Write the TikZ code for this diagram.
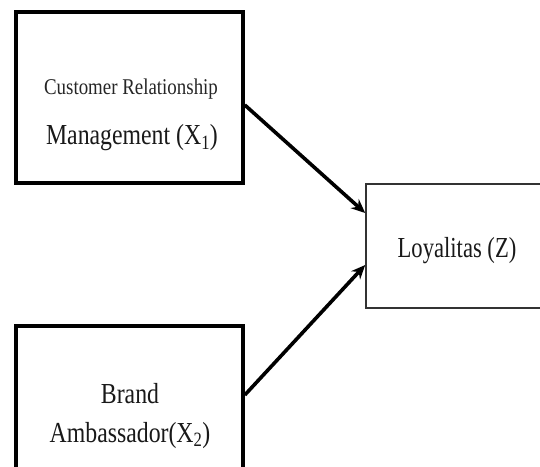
\documentclass[tikz,border=0pt]{standalone}
\usepackage{fontspec}
\setmainfont{Liberation Serif}
\usetikzlibrary{arrows.meta}
\newcommand{\cond}[2]{\scalebox{#1}[1]{#2}}
\begin{document}
\begin{tikzpicture}[x=1pt,y=1pt,
  thickbox/.style={draw=black,line width=3.6pt,fill=white,inner sep=0pt},
  thinbox/.style={draw=black!80,line width=1.6pt,fill=white,inner sep=0pt},
  lbl/.style={anchor=base,inner sep=0pt,text=black!90,font=\fontsize{29}{34}\selectfont},
  lblsmall/.style={anchor=base,inner sep=0pt,text=black!85,font=\fontsize{22.5}{27}\selectfont},
  conn/.style={line width=3.6pt,-{Stealth[length=14pt,width=12pt]}}]
\useasboundingbox (0,0) rectangle (540,466);
\clip (0,0) rectangle (540,466);
\fill[white] (0,0) rectangle (540,466);
% boxes
\node[thickbox,minimum width=227pt,minimum height=171pt] (x1) at (129.5,368.5) {};
\node[thickbox,minimum width=227pt,minimum height=220pt] (x2) at (129.5,30) {};
\node[thinbox,minimum width=254pt,minimum height=124pt] (z) at (493,220) {};
% texts
\node[lblsmall] (t1a) at (131,371) {\cond{0.84}{Customer Relationship}};
\node[lbl] (t1b) at (132,321) {\cond{0.82}{Management (X\textsubscript{1})}};
\node[lbl] (t2a) at (130,63) {\cond{0.82}{Brand}};
\node[lbl] (t2b) at (130,24) {\cond{0.82}{Ambassador(X\textsubscript{2})}};
\node[lbl] (tz) at (457,208) {\cond{0.78}{Loyalitas (Z)}};
% connectors
\coordinate (s1) at ([yshift=-7.5pt]x1.east);
\coordinate (s2) at ([yshift=41pt]x2.east);
\coordinate (e1) at ([yshift=33pt]z.west);
\coordinate (e2) at ([yshift=-19pt]z.west);
\draw[conn] (s1) -- (e1);
\draw[conn] (s2) -- (e2);
\end{tikzpicture}
\end{document}
